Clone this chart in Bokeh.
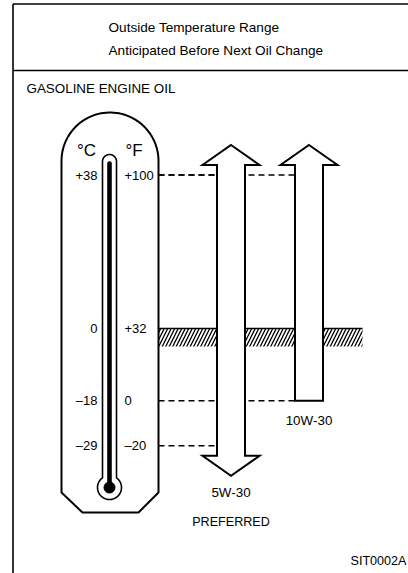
from bokeh.plotting import figure
from bokeh.models import Range1d
from bokeh.core.properties import value
from bokeh.embed import file_html
from bokeh.resources import INLINE
import numpy as np

# ---------------- data ----------------
title_lines = ["Outside Temperature Range", "Anticipated Before Next Oil Change"]
section_label = "GASOLINE ENGINE OIL"
figure_code = "SIT0002A"
scale_units = ["°C", "°F"]
celsius_labels = ["+38", "0", "–18", "–29"]
fahrenheit_labels = ["+100", "+32", "0", "–20"]
fahrenheit_values = [100, 32, 0, -20]
oil_grades = ["5W-30", "10W-30"]
oil_low_f = [-20, 0]
oil_high_f = [100, 100]
oil_open_below = [True, False]
oil_notes = ["PREFERRED", ""]
freezing_f = 32

# ---------------- layout helpers (pixel layout -> data units) ----------------
PX_PER_F = 2.2568
REF_PX, REF_F = 337.0, 28.0
W, H = 408, 573


def fy(py):
    """page pixel row -> degrees F on the y scale"""
    return REF_F - (py - REF_PX) / PX_PER_F


def dpx(n):
    return n / PX_PER_F


FONT = value("Liberation Sans")

p = figure(width=W, height=H, output_backend="svg", toolbar_location=None,
           x_range=Range1d(0, W), y_range=Range1d(fy(H), fy(0)),
           x_axis_location=None, y_axis_location=None, min_border=0,
           background_fill_color="white", border_fill_color="white",
           outline_line_color=None)
p.grid.visible = False

# ---------------- frame ----------------
p.segment(x0=[12.5, 12.5, 12.5], y0=[fy(3.5), fy(3.5), fy(70)],
          x1=[12.5, 430, 430], y1=[fy(H + 5), fy(3.5), fy(70)],
          line_color="black", line_width=1.6)

# titles
p.text(x=[108, 108], y=[fy(27), fy(49.5)], text=title_lines, text_font=FONT,
       text_font_size="13.6px", text_align="left", text_baseline="middle",
       text_color="black")
p.text(x=[26], y=[fy(88)], text=[section_label], text_font=FONT,
       text_font_size="13.4px", text_align="left", text_baseline="middle",
       text_color="black")
p.text(x=[406], y=[fy(560)], text=[figure_code], text_font=FONT,
       text_font_size="12.6px", text_align="right", text_baseline="middle",
       text_color="black")

# ---------------- freezing band (hatched) ----------------
band_left, band_right = 158, 362
p.quad(left=[band_left], right=[band_right], top=[freezing_f],
       bottom=[freezing_f - dpx(18)], fill_alpha=0, line_color=None,
       hatch_pattern="/", hatch_color="black", hatch_scale=7, hatch_weight=1.3)
p.segment(x0=[band_left], x1=[band_right], y0=[freezing_f], y1=[freezing_f],
          line_color="black", line_width=1.6)

# ---------------- arrows ----------------
arrow_cx = [230.5, 308.5]
BODY_HW, HEAD_HW, HEAD_LEN, EXT = 14, 28.5, 20, 10
xs, ys = [], []
for cx, lo, hi, open_lo in zip(arrow_cx, oil_low_f, oil_high_f, oil_open_below):
    tb = hi + dpx(EXT)
    ta = hi + dpx(EXT + HEAD_LEN)
    px_ = [cx, cx + HEAD_HW, cx + BODY_HW]
    py_ = [ta, tb, tb]
    if open_lo:
        bb = lo - dpx(EXT)
        ba = lo - dpx(EXT + HEAD_LEN)
        px_ += [cx + BODY_HW, cx + HEAD_HW, cx, cx - HEAD_HW, cx - BODY_HW]
        py_ += [bb, bb, ba, bb, bb]
    else:
        px_ += [cx + BODY_HW, cx - BODY_HW]
        py_ += [lo, lo]
    px_ += [cx - BODY_HW, cx - HEAD_HW]
    py_ += [tb, tb]
    xs.append(px_)
    ys.append(py_)

# dashed guides from thermometer to each arrow end
dx0, dx1, dy = [], [], []
for cx, lo, hi in zip(arrow_cx, oil_low_f, oil_high_f):
    for t in (hi, lo):
        dx0.append(158)
        dx1.append(cx - BODY_HW)
        dy.append(t)
p.segment(x0=dx0, x1=dx1, y0=dy, y1=dy, line_color="black", line_width=1.5,
          line_dash="6 4")

p.patches(xs=xs, ys=ys, fill_color="white", line_color="black", line_width=2,
          line_join="miter")

# grade labels
lab_y, note_y = [], []
for lo, open_lo in zip(oil_low_f, oil_open_below):
    if open_lo:
        yb = lo - dpx(EXT + HEAD_LEN + 17)
    else:
        yb = lo - dpx(20)
    lab_y.append(yb)
    note_y.append(yb - dpx(29))
p.text(x=arrow_cx, y=lab_y, text=oil_grades, text_font=FONT,
       text_font_size="13.4px", text_align="center", text_baseline="middle",
       text_color="black")
p.text(x=arrow_cx, y=note_y, text=oil_notes, text_font=FONT,
       text_font_size="12.6px", text_align="center", text_baseline="middle",
       text_color="black")

# ---------------- thermometer ----------------
cx_t, cy_top, r_top = 109.5, 160.5, 48.5
ang = np.linspace(np.pi, 0, 60)
tx = list(cx_t + r_top * np.cos(ang)) + [158, 138, 82, 61]
ty = [fy(cy_top - r_top * np.sin(a)) for a in ang] + [fy(492), fy(512), fy(512), fy(492)]
p.patch(x=tx, y=ty, fill_color="white", line_color="black", line_width=2)

# tube + bulb outline
bx, by_, br = 109, 487, 12
tube_hw, tube_top = 7, 161
yi = by_ - np.sqrt(br ** 2 - tube_hw ** 2)
a0 = np.arctan2(np.sqrt(br ** 2 - tube_hw ** 2), tube_hw)
tub_x = [bx - tube_hw]
tub_y = [fy(yi)]
aa = np.linspace(np.pi, 0, 20)
tub_x += list(bx + tube_hw * np.cos(aa))
tub_y += [fy(tube_top - tube_hw * np.sin(a)) for a in aa]
ab = np.linspace(a0, np.pi - a0 - 2 * np.pi, 50)
tub_x += list(bx + br * np.cos(ab))
tub_y += [fy(by_ - br * np.sin(a)) for a in ab]
p.patch(x=tub_x, y=tub_y, fill_color="white", line_color="black", line_width=1.6)

# mercury column
p.line(x=[bx, bx], y=[fy(163), fy(by_)], line_color="black", line_width=4.6,
       line_cap="round")
p.scatter(x=[bx], y=[fy(by_)], size=11, marker="circle", fill_color="black",
          line_color="black")

# scale labels
p.text(x=[86, 133.5], y=[fy(150), fy(150)], text=scale_units, text_font=FONT,
       text_font_size="17px", text_align="center", text_baseline="middle",
       text_color="black")
p.text(x=[97] * len(fahrenheit_values), y=fahrenheit_values, text=celsius_labels,
       text_font=FONT, text_font_size="13px", text_align="right",
       text_baseline="middle", text_color="black")
p.text(x=[124] * len(fahrenheit_values), y=fahrenheit_values, text=fahrenheit_labels,
       text_font=FONT, text_font_size="13px", text_align="left",
       text_baseline="middle", text_color="black")

open("out.html", "w").write(file_html(p, INLINE))
